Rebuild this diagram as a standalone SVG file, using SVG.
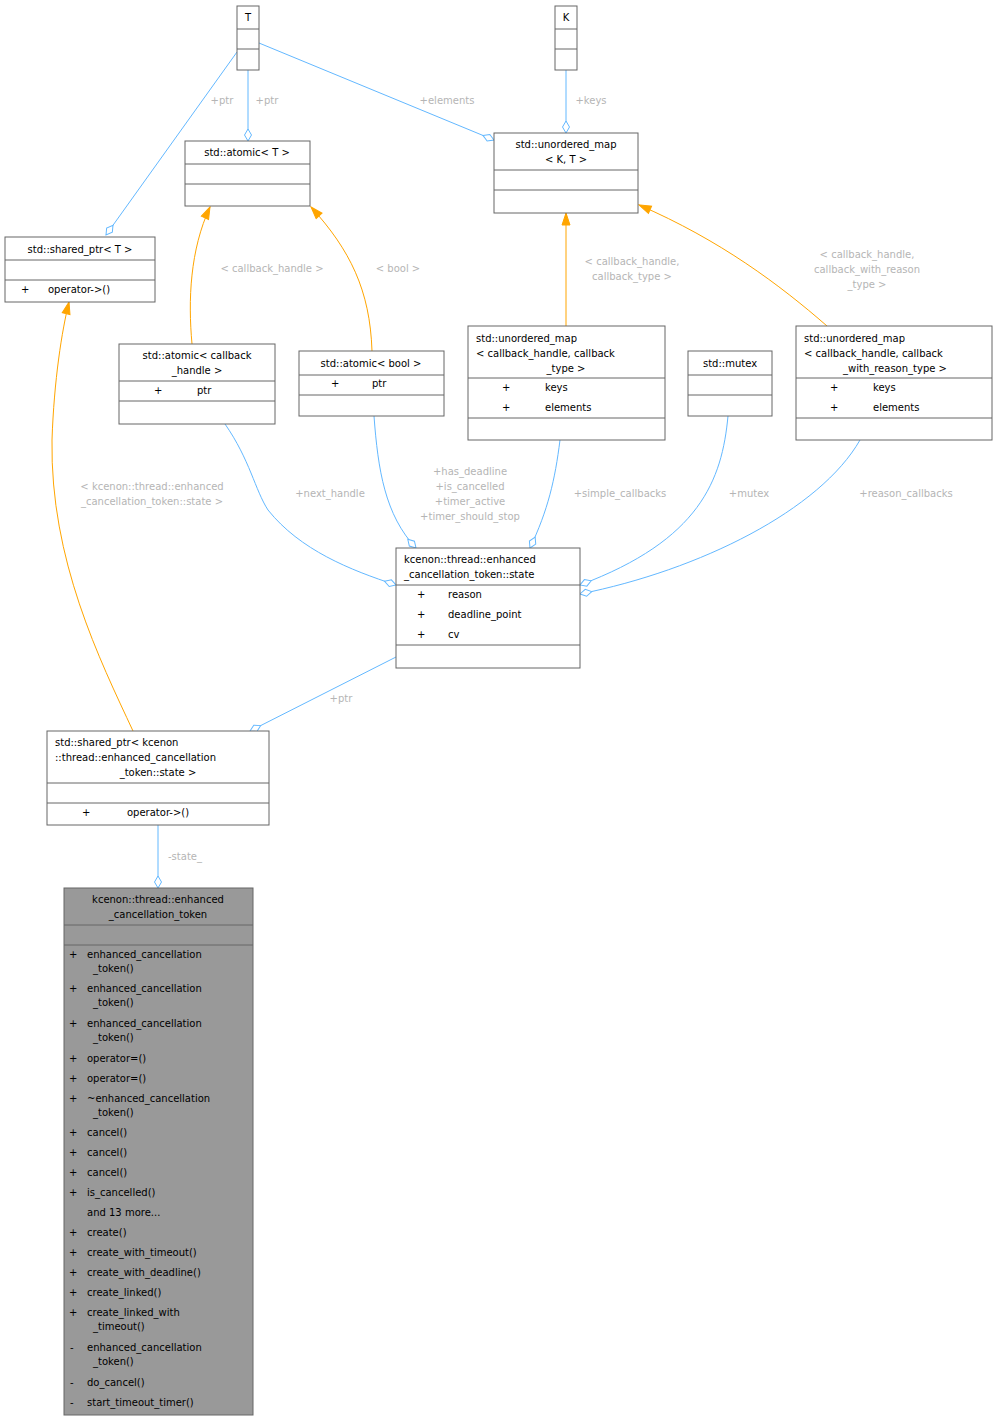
<svg xmlns="http://www.w3.org/2000/svg" width="998" height="1421" viewBox="0 0 998 1421">
<style>
text{font-family:"DejaVu Sans","Liberation Sans",sans-serif;font-size:10px;fill:#000}
.n rect{fill:#fff;stroke:#666;stroke-width:1}
.n line{stroke:#666;stroke-width:1}
.c{fill:none;stroke:#63b8ff;stroke-width:1}
.o{fill:none;stroke:#ffa500;stroke-width:1}
.l{fill:#b5b5b5;text-anchor:middle}
.m{text-anchor:middle}
</style>
<defs>
<marker id="d" markerUnits="userSpaceOnUse" markerWidth="14" markerHeight="10" refX="13" refY="5" orient="auto" viewBox="0 0 14 10"><path d="M1,5 L7,1.5 L13,5 L7,8.5 Z" fill="#fff" stroke="#63b8ff"/></marker>
<marker id="a" markerUnits="userSpaceOnUse" markerWidth="14" markerHeight="10" refX="13" refY="5" orient="auto" viewBox="0 0 14 10"><path d="M1,1 L13,5 L1,9 Z" fill="#ffa500" stroke="#ffa500"/></marker>
</defs>
<g id="edges">
<path class="c" d="M237,52 L106,235" marker-end="url(#d)"/>
<path class="c" d="M248,70 L248,141" marker-end="url(#d)"/>
<path class="c" d="M259,43 L494,140" marker-end="url(#d)"/>
<path class="c" d="M566,70 L566,133" marker-end="url(#d)"/>
<path class="o" d="M192,344 C188,300 190,250 210,207" marker-end="url(#a)"/>
<path class="o" d="M372,351 C370,290 350,250 311,207" marker-end="url(#a)"/>
<path class="o" d="M566,326 L566,213" marker-end="url(#a)"/>
<path class="o" d="M827,326 C780,285 720,240 639,205" marker-end="url(#a)"/>
<path class="o" d="M133,731 C100,660 50,560 52,440 C54,380 62,330 69,302" marker-end="url(#a)"/>
<path class="c" d="M225,424 C250,460 255,490 268,510 C300,550 350,570 396,585" marker-end="url(#d)"/>
<path class="c" d="M374,416 C378,470 385,515 416,548" marker-end="url(#d)"/>
<path class="c" d="M560,440 C555,480 548,510 530,548" marker-end="url(#d)"/>
<path class="c" d="M728,416 C722,480 700,540 580,585" marker-end="url(#d)"/>
<path class="c" d="M860,440 C820,510 700,570 580,594" marker-end="url(#d)"/>
<path class="c" d="M396,657 L250,731" marker-end="url(#d)"/>
<path class="c" d="M158,825 L158,888" marker-end="url(#d)"/>
<text class="l" x="222" y="104">+ptr</text>
<text class="l" x="267" y="104">+ptr</text>
<text class="l" x="447" y="104">+elements</text>
<text class="l" x="591" y="104">+keys</text>
<text class="l" x="272" y="272">&lt; callback_handle &gt;</text>
<text class="l" x="398" y="272">&lt; bool &gt;</text>
<text class="l" x="632" y="265">&lt; callback_handle,</text>
<text class="l" x="632" y="280">callback_type &gt;</text>
<text class="l" x="867" y="258">&lt; callback_handle,</text>
<text class="l" x="867" y="273">callback_with_reason</text>
<text class="l" x="867" y="288">_type &gt;</text>
<text class="l" x="152" y="490">&lt; kcenon::thread::enhanced</text>
<text class="l" x="152" y="505">_cancellation_token::state &gt;</text>
<text class="l" x="330" y="497">+next_handle</text>
<text class="l" x="470" y="475">+has_deadline</text>
<text class="l" x="470" y="490">+is_cancelled</text>
<text class="l" x="470" y="505">+timer_active</text>
<text class="l" x="470" y="520">+timer_should_stop</text>
<text class="l" x="620" y="497">+simple_callbacks</text>
<text class="l" x="749" y="497">+mutex</text>
<text class="l" x="906" y="497">+reason_callbacks</text>
<text class="l" x="341" y="702">+ptr</text>
<text class="l" x="185" y="860">-state_</text>
</g>
<g id="T" class="n"><rect x="237" y="6" width="22" height="64"/><line x1="237" y1="29" x2="259" y2="29"/><line x1="237" y1="49" x2="259" y2="49"/><text class="m" x="248" y="21">T</text></g>
<g id="K" class="n"><rect x="555" y="6" width="22" height="64"/><line x1="555" y1="29" x2="577" y2="29"/><line x1="555" y1="49" x2="577" y2="49"/><text class="m" x="566" y="21">K</text></g>
<g id="atomicT" class="n"><rect x="185" y="141" width="125" height="65"/><line x1="185" y1="164" x2="310" y2="164"/><line x1="185" y1="184" x2="310" y2="184"/><text class="m" x="247" y="156">std::atomic&lt; T &gt;</text></g>
<g id="sharedT" class="n"><rect x="5" y="237" width="150" height="65"/><line x1="5" y1="260" x2="155" y2="260"/><line x1="5" y1="280" x2="155" y2="280"/><text class="m" x="80" y="253">std::shared_ptr&lt; T &gt;</text><text x="21" y="293">+</text><text x="48" y="293">operator-&gt;()</text></g>
<g id="umapKT" class="n"><rect x="494" y="133" width="144" height="80"/><line x1="494" y1="170" x2="638" y2="170"/><line x1="494" y1="190" x2="638" y2="190"/><text class="m" x="566" y="148">std::unordered_map</text><text class="m" x="566" y="163">&lt; K, T &gt;</text></g>
<g id="atomicCH" class="n"><rect x="119" y="344" width="156" height="80"/><line x1="119" y1="381" x2="275" y2="381"/><line x1="119" y1="401" x2="275" y2="401"/><text class="m" x="197" y="359">std::atomic&lt; callback</text><text class="m" x="197" y="374">_handle &gt;</text><text x="154" y="394">+</text><text x="197" y="394">ptr</text></g>
<g id="atomicBool" class="n"><rect x="299" y="351" width="145" height="65"/><line x1="299" y1="375" x2="444" y2="375"/><line x1="299" y1="395" x2="444" y2="395"/><text class="m" x="371" y="367">std::atomic&lt; bool &gt;</text><text x="331" y="387">+</text><text x="372" y="387">ptr</text></g>
<g id="umapSimple" class="n"><rect x="468" y="326" width="197" height="114"/><line x1="468" y1="378" x2="665" y2="378"/><line x1="468" y1="418" x2="665" y2="418"/><text x="476" y="342">std::unordered_map</text><text x="476" y="357">&lt; callback_handle, callback</text><text class="m" x="566" y="372">_type &gt;</text><text x="502" y="391">+</text><text x="545" y="391">keys</text><text x="502" y="411">+</text><text x="545" y="411">elements</text></g>
<g id="mutex" class="n"><rect x="688" y="351" width="84" height="65"/><line x1="688" y1="375" x2="772" y2="375"/><line x1="688" y1="395" x2="772" y2="395"/><text class="m" x="730" y="367">std::mutex</text></g>
<g id="umapReason" class="n"><rect x="796" y="326" width="196" height="114"/><line x1="796" y1="378" x2="992" y2="378"/><line x1="796" y1="418" x2="992" y2="418"/><text x="804" y="342">std::unordered_map</text><text x="804" y="357">&lt; callback_handle, callback</text><text class="m" x="895" y="372">_with_reason_type &gt;</text><text x="830" y="391">+</text><text x="873" y="391">keys</text><text x="830" y="411">+</text><text x="873" y="411">elements</text></g>
<g id="state" class="n"><rect x="396" y="548" width="184" height="120"/><line x1="396" y1="585" x2="580" y2="585"/><line x1="396" y1="645" x2="580" y2="645"/><text x="404" y="563">kcenon::thread::enhanced</text><text x="404" y="578">_cancellation_token::state</text><text x="417" y="598">+</text><text x="448" y="598">reason</text><text x="417" y="618">+</text><text x="448" y="618">deadline_point</text><text x="417" y="638">+</text><text x="448" y="638">cv</text></g>
<g id="sharedState" class="n"><rect x="47" y="731" width="222" height="94"/><line x1="47" y1="783" x2="269" y2="783"/><line x1="47" y1="803" x2="269" y2="803"/><text x="55" y="746">std::shared_ptr&lt; kcenon</text><text x="55" y="761">::thread::enhanced_cancellation</text><text class="m" x="158" y="776">_token::state &gt;</text><text x="82" y="816">+</text><text x="127" y="816">operator-&gt;()</text></g>
<g id="main" class="n"><rect x="64" y="888" width="189" height="527" style="fill:#999999"/><line x1="64" y1="925" x2="253" y2="925"/><line x1="64" y1="945" x2="253" y2="945"/>
<text class="m" x="158" y="903">kcenon::thread::enhanced</text><text class="m" x="158" y="918">_cancellation_token</text>
<text x="69" y="958">+</text><text x="87" y="958">enhanced_cancellation</text><text x="93" y="972">_token()</text>
<text x="69" y="992">+</text><text x="87" y="992">enhanced_cancellation</text><text x="93" y="1006">_token()</text>
<text x="69" y="1027">+</text><text x="87" y="1027">enhanced_cancellation</text><text x="93" y="1041">_token()</text>
<text x="69" y="1062">+</text><text x="87" y="1062">operator=()</text>
<text x="69" y="1082">+</text><text x="87" y="1082">operator=()</text>
<text x="69" y="1102">+</text><text x="87" y="1102">~enhanced_cancellation</text><text x="93" y="1116">_token()</text>
<text x="69" y="1136">+</text><text x="87" y="1136">cancel()</text>
<text x="69" y="1156">+</text><text x="87" y="1156">cancel()</text>
<text x="69" y="1176">+</text><text x="87" y="1176">cancel()</text>
<text x="69" y="1196">+</text><text x="87" y="1196">is_cancelled()</text>
<text x="87" y="1216">and 13 more...</text>
<text x="69" y="1236">+</text><text x="87" y="1236">create()</text>
<text x="69" y="1256">+</text><text x="87" y="1256">create_with_timeout()</text>
<text x="69" y="1276">+</text><text x="87" y="1276">create_with_deadline()</text>
<text x="69" y="1296">+</text><text x="87" y="1296">create_linked()</text>
<text x="69" y="1316">+</text><text x="87" y="1316">create_linked_with</text><text x="93" y="1330">_timeout()</text>
<text x="70" y="1351">-</text><text x="87" y="1351">enhanced_cancellation</text><text x="93" y="1365">_token()</text>
<text x="70" y="1386">-</text><text x="87" y="1386">do_cancel()</text>
<text x="70" y="1406">-</text><text x="87" y="1406">start_timeout_timer()</text>
</g>
</svg>
